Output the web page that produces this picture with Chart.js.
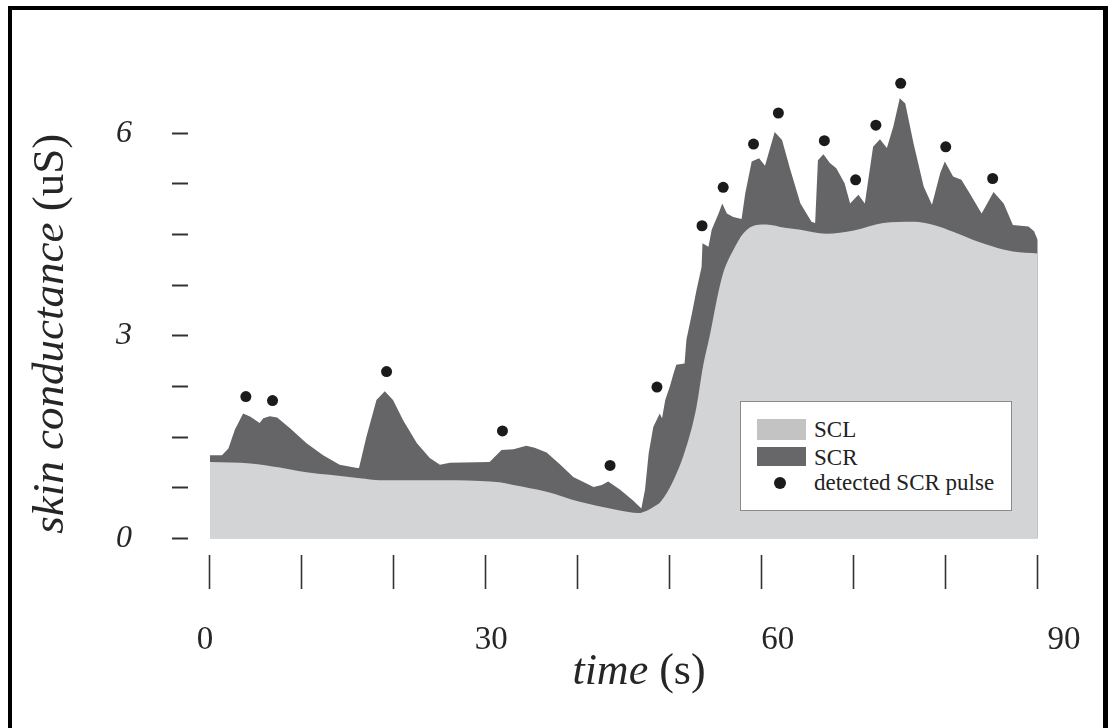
<!DOCTYPE html>
<html>
<head>
<meta charset="utf-8">
<script src="https://cdn.jsdelivr.net/npm/chart.js@4.4.1/dist/chart.umd.min.js"></script>
<style>
html, body { margin: 0; padding: 0; background: #fff; }
#wrap { position: relative; width: 1108px; height: 728px; overflow: hidden; }
#chart { position: absolute; left: 0; top: 0; }
#frame { position: absolute; left: 8px; top: 6px; right: 0; bottom: 0; box-sizing: border-box;
  border-left: 4px solid #000; border-top: 4px solid #000; border-right: 5px solid #000; pointer-events: none; }
#legend { position: absolute; left: 740px; top: 401px; width: 272px; height: 110px; box-sizing: border-box;
  border: 1px solid #8a8a8a; background: #fff; font-family: 'Liberation Serif', 'DejaVu Serif', serif;
  font-size: 23px; color: #222; }
#legend .sw { position: absolute; left: 16px; width: 49px; }
#legend .dot { position: absolute; left: 33px; top: 75px; width: 12px; height: 12px; border-radius: 50%; background: #1b1b1b; }
#legend .txt { position: absolute; left: 73px; line-height: 24px; white-space: nowrap; }
</style>
</head>
<body>
<div id="wrap">
  <canvas id="chart" width="1108" height="728"></canvas>
  <div id="legend">
    <div class="sw" style="top:17px;height:21px;background:#c3c3c4"></div>
    <div class="txt" style="top:16px">SCL</div>
    <div class="sw" style="top:45px;height:19px;background:#67676a"></div>
    <div class="txt" style="top:44px">SCR</div>
    <div class="dot"></div>
    <div class="txt" style="top:69px">detected SCR pulse</div>
  </div>
  <div id="frame"></div>
</div>
<script>
// skin conductance level (tonic part), seconds / uS
var sclTime = [0, 4.4, 7.6, 10.5, 13.0, 16.3, 18.5, 24.0, 29.4, 31.5, 33.0, 36.6, 40.2, 43.9, 45.5,
  46.6, 47.5, 48.3, 49.0, 50.4, 51.8, 52.9, 53.6, 54.4, 55.1, 55.8, 56.9, 58.0, 59.4, 60.5,
  62.5, 64.2, 67.0, 70.0, 73.2, 76.5, 78.7, 80.8, 83.0, 85.2, 87.3, 90.0]
var sclLevel = [1.13, 1.11, 1.05, 0.98, 0.94, 0.89, 0.86, 0.86, 0.85, 0.83, 0.79, 0.69, 0.54, 0.43, 0.39,
  0.375, 0.41, 0.47, 0.54, 0.86, 1.36, 1.95, 2.54, 3.04, 3.53, 3.93, 4.27, 4.52, 4.64, 4.65,
  4.60, 4.57, 4.51, 4.56, 4.67, 4.69, 4.64, 4.54, 4.42, 4.32, 4.25, 4.22]

// total signal (SCL + SCR), upper edge of the dark area
var scTime = [0, 1.3, 2.0, 2.7, 3.6, 4.4, 5.4, 5.8, 6.5, 7.3, 8.7, 10.5, 12.3, 14.1, 16.0, 16.2, 17.0, 18.1,
  19.0, 19.9, 21.0, 22.5, 23.9, 25.0, 26.1, 30.4, 31.7, 33.0, 34.4, 35.3, 36.6, 38.1, 39.5, 41.7, 42.6,
  43.3, 44.6, 46.0, 46.9, 47.3, 47.7, 48.2, 48.9, 49.15, 49.5, 50.0, 50.4, 50.7, 51.6, 51.8, 52.4, 52.9,
  53.45, 53.55, 54.2, 54.55, 55.3, 55.7, 56.2, 56.9, 57.8, 58.2, 58.9, 59.7, 60.35, 61.4, 62.2, 63.1,
  64.2, 65.4, 65.8, 66.1, 66.7, 67.4, 68.1, 69.0, 69.6, 70.5, 71.2, 72.1, 72.85, 73.6, 74.3, 75.0, 75.6,
  76.5, 77.6, 78.5, 79.4, 79.9, 80.8, 81.7, 82.6, 83.9, 85.2, 86.3, 87.3, 89.0, 89.6, 90.0]
var scTotal = [1.23, 1.23, 1.33, 1.61, 1.85, 1.80, 1.71, 1.78, 1.81, 1.79, 1.63, 1.41, 1.23, 1.09, 1.04, 1.04, 1.50, 2.05,
  2.18, 2.05, 1.75, 1.41, 1.19, 1.09, 1.12, 1.13, 1.31, 1.32, 1.37, 1.34, 1.27, 1.09, 0.91, 0.76, 0.79,
  0.84, 0.72, 0.56, 0.44, 0.72, 1.26, 1.65, 1.85, 1.78, 2.05, 2.25, 2.44, 2.57, 2.59, 2.94, 3.33, 3.68,
  4.02, 4.37, 4.32, 4.57, 4.81, 4.96, 4.81, 4.76, 4.73, 5.11, 5.58, 5.63, 5.52, 6.02, 5.90, 5.46,
  4.96, 4.69, 4.67, 5.60, 5.69, 5.56, 5.48, 5.26, 4.96, 5.09, 4.96, 5.80, 5.91, 5.78, 6.10, 6.52, 6.44,
  5.85, 5.21, 4.94, 5.41, 5.58, 5.36, 5.31, 5.11, 4.81, 5.13, 4.96, 4.64, 4.62, 4.55, 4.42]

// detected SCR pulses
var pulseTime = [3.9, 6.8, 19.2, 31.8, 43.5, 48.6, 53.5, 55.8, 59.1, 61.8, 66.8, 70.2, 72.4, 75.1, 80.0, 85.1]
var pulseLevel = [2.10, 2.04, 2.47, 1.59, 1.08, 2.24, 4.63, 5.20, 5.84, 6.30, 5.89, 5.31, 6.12, 6.74, 5.80, 5.33]

var yTickValues = [0, 0.75, 1.5, 2.25, 3, 3.75, 4.5, 5.25, 6]
var yLabelValues = [0, 3, 6]
var xTickValues = [0, 10, 20, 30, 40, 50, 60, 70, 80, 90]
var xLabelValues = [0, 30, 60, 90]

var serif = "'Liberation Serif', 'DejaVu Serif', serif"
var ink = '#262626'

function toPoints(xs, ys) {
    return xs.map(function(x, i) { return { x: x, y: ys[i] } })
}

function setTicks(values) {
    return function(scale) {
        scale.ticks = values.map(function(v) { return { value: v } })
    }
}

// fixed axis size, and no extra label padding so the chart area stays put
function fixSize(key, size) {
    return function(s) {
        s[key] = size
        s.paddingLeft = 0
        s.paddingRight = 0
        s.paddingTop = 0
        s.paddingBottom = 0
    }
}

// axis titles have an italic word and an upright unit, so draw them by hand
function drawParts(ctx, parts, size) {
    var total = 0
    parts.forEach(function(p) {
        ctx.font = p[1] + ' ' + size + 'px ' + serif
        p.w = ctx.measureText(p[0]).width
        total += p.w
    })
    var pos = -total / 2
    parts.forEach(function(p) {
        ctx.font = p[1] + ' ' + size + 'px ' + serif
        ctx.fillText(p[0], pos, 0)
        pos += p.w
    })
}

var axisTitles = {
    id: 'axisTitles',
    afterDraw: function(chart) {
        var ctx = chart.ctx
        var ys = chart.scales.y
        ctx.save()
        ctx.fillStyle = ink
        ctx.textBaseline = 'alphabetic'
        ctx.translate(63, ys.getPixelForValue(3) - 2)
        ctx.rotate(-Math.PI / 2)
        drawParts(ctx, [['skin conductance', 'italic'], [' (uS)', 'normal']], 45)
        ctx.restore()

        ctx.save()
        ctx.fillStyle = ink
        ctx.textBaseline = 'alphabetic'
        ctx.translate(639, 684)
        drawParts(ctx, [['time', 'italic'], [' (s)', 'normal']], 44)
        ctx.restore()
    }
}

new Chart(document.getElementById('chart').getContext('2d'), {
    type: 'line',
    data: {
        datasets: [{
            label: 'detected SCR pulse',
            type: 'scatter',
            data: toPoints(pulseTime, pulseLevel),
            pointRadius: 5.5,
            pointBackgroundColor: '#1b1b1b',
            pointBorderWidth: 0,
            showLine: false
        }, {
            label: 'SCL',
            data: toPoints(sclTime, sclLevel),
            fill: 'origin',
            backgroundColor: '#d3d4d6',
            borderWidth: 0,
            pointRadius: 0,
            cubicInterpolationMode: 'monotone'
        }, {
            label: 'SCR',
            data: toPoints(scTime, scTotal),
            fill: 'origin',
            backgroundColor: '#656568',
            borderWidth: 0,
            pointRadius: 0,
            tension: 0
        }]
    },
    options: {
        responsive: false,
        animation: false,
        devicePixelRatio: 1,
        layout: { autoPadding: false, padding: { left: 0, top: 32, right: 38, bottom: 0 } },
        plugins: { legend: { display: false }, tooltip: { enabled: false } },
        scales: {
            x: {
                type: 'linear',
                position: 'bottom',
                weight: 1,
                min: -2.392,
                max: 93.51,
                afterBuildTicks: setTicks(xTickValues),
                afterFit: fixSize('height', 34),
                ticks: { display: false },
                grid: { drawOnChartArea: false, drawTicks: true, tickLength: 34, tickWidth: 1.6, tickColor: '#333' },
                border: { display: false }
            },
            xt: {
                type: 'linear',
                axis: 'x',
                position: 'bottom',
                weight: 2,
                min: -1.781,
                max: 90.63,
                afterBuildTicks: setTicks(xLabelValues),
                afterFit: fixSize('height', 139),
                grid: { display: false, drawTicks: false },
                border: { display: false },
                ticks: {
                    autoSkip: false, maxRotation: 0, padding: 32, color: ink,
                    font: { family: serif, size: 33 },
                    callback: function(v) { return String(v) }
                }
            },
            y: {
                type: 'linear',
                min: -0.247,
                max: 7.5,
                afterBuildTicks: setTicks(yTickValues),
                afterFit: fixSize('width', 188),
                grid: { drawOnChartArea: false, drawTicks: true, tickLength: 16, tickWidth: 2, tickColor: '#333' },
                border: { display: false },
                ticks: {
                    autoSkip: false, padding: 40, color: ink,
                    font: { family: serif, size: 32, style: 'italic' },
                    callback: function(v) { return yLabelValues.indexOf(v) >= 0 ? String(v) : '' }
                }
            }
        }
    },
    plugins: [axisTitles]
})
</script>
</body>
</html>
